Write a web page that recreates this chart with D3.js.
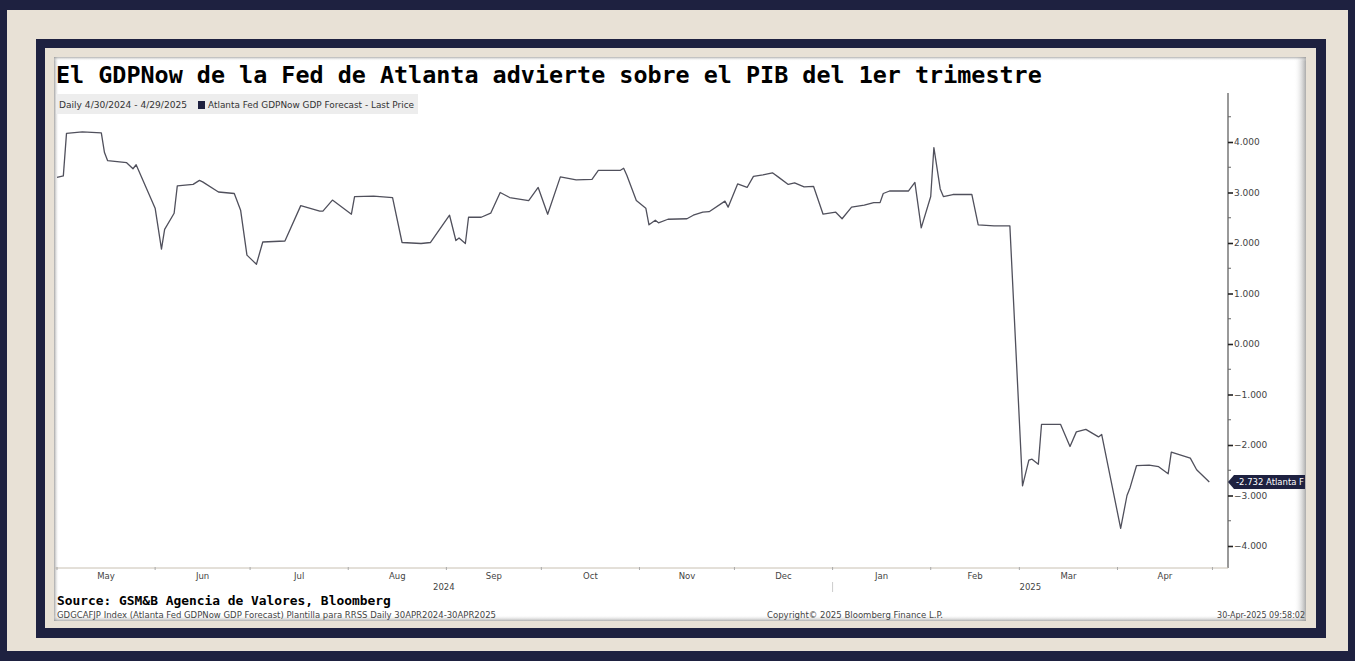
<!DOCTYPE html>
<html><head><meta charset="utf-8">
<script src="https://cdn.jsdelivr.net/npm/d3@7"></script>
<style>html,body{margin:0;padding:0;background:#1e2140;}svg{display:block;}</style>
</head><body>
<svg id="c" width="1355" height="661"></svg>
<script>
// ---- data ----
const dates = ["2024-04-30","2024-05-02","2024-05-03","2024-05-08","2024-05-14","2024-05-15","2024-05-16","2024-05-22","2024-05-24","2024-05-25","2024-05-31",
"2024-06-02","2024-06-03","2024-06-06","2024-06-07","2024-06-12","2024-06-14","2024-06-15","2024-06-20","2024-06-25","2024-06-27","2024-06-29",
"2024-07-02","2024-07-04","2024-07-11","2024-07-16","2024-07-22","2024-07-23","2024-07-26",
"2024-08-01","2024-08-02","2024-08-08","2024-08-14","2024-08-17","2024-08-23","2024-08-26",
"2024-09-01","2024-09-03","2024-09-04","2024-09-06","2024-09-07","2024-09-11","2024-09-14","2024-09-17","2024-09-20","2024-09-26","2024-09-29",
"2024-10-02","2024-10-06","2024-10-11","2024-10-16","2024-10-18","2024-10-25","2024-10-26","2024-10-27","2024-10-30",
"2024-11-02","2024-11-03","2024-11-05","2024-11-06","2024-11-09","2024-11-15","2024-11-17","2024-11-20","2024-11-22","2024-11-27","2024-11-28",
"2024-12-01","2024-12-04","2024-12-06","2024-12-09","2024-12-12","2024-12-14","2024-12-17","2024-12-19","2024-12-22","2024-12-25","2024-12-28",
"2025-01-01","2025-01-03","2025-01-06","2025-01-10","2025-01-13","2025-01-15","2025-01-16","2025-01-18","2025-01-24","2025-01-26","2025-01-28","2025-01-31",
"2025-02-01","2025-02-03","2025-02-04","2025-02-07","2025-02-13","2025-02-15","2025-02-20","2025-02-25",
"2025-03-01","2025-03-03","2025-03-04","2025-03-06","2025-03-07","2025-03-13","2025-03-16","2025-03-18","2025-03-21","2025-03-25","2025-03-26",
"2025-04-01","2025-04-03","2025-04-04","2025-04-06","2025-04-10","2025-04-13","2025-04-16","2025-04-17","2025-04-23","2025-04-25","2025-04-29"];
const gdpNow = [3.30,3.33,4.17,4.20,4.18,3.79,3.63,3.59,3.47,3.55,2.69,
1.88,2.27,2.59,3.13,3.16,3.24,3.21,3.01,2.98,2.65,1.76,
1.58,2.02,2.04,2.74,2.63,2.63,2.85,
2.57,2.92,2.93,2.90,2.01,1.99,2.01,
2.55,2.05,2.10,1.99,2.51,2.51,2.59,3.00,2.90,2.84,3.10,
2.57,3.31,3.25,3.26,3.44,3.44,3.48,3.34,2.84,
2.69,2.36,2.45,2.40,2.47,2.48,2.55,2.61,2.62,2.83,2.71,
3.17,3.10,3.32,3.35,3.39,3.30,3.16,3.19,3.11,3.12,2.57,
2.61,2.48,2.71,2.75,2.80,2.80,2.98,3.03,3.03,3.20,2.30,2.92,
3.89,3.07,2.92,2.96,2.96,2.36,2.34,2.34,
-2.81,-2.30,-2.28,-2.38,-1.59,-1.59,-2.03,-1.74,-1.69,-1.84,-1.79,
-3.65,-3.00,-2.84,-2.41,-2.40,-2.43,-2.57,-2.14,-2.26,-2.49,-2.732];
const yTicks = [-4,-3,-2,-1,0,1,2,3,4];
const monthLabels = ["May","Jun","Jul","Aug","Sep","Oct","Nov","Dec","Jan","Feb","Mar","Apr"];
const yearLabels = ["2024","2025"];
const titleText = "El GDPNow de la Fed de Atlanta advierte sobre el PIB del 1er trimestre";
const legendRange = "Daily 4/30/2024 - 4/29/2025";
const legendSeries = "Atlanta Fed GDPNow GDP Forecast - Last Price";
const sourceText = "Source: GSM&B Agencia de Valores, Bloomberg";
const footLeft = "GDGCAFJP Index (Atlanta Fed GDPNow GDP Forecast) Plantilla para RRSS  Daily 30APR2024-30APR2025";
const footMid = "Copyright\u00A9 2025 Bloomberg Finance L.P.";
const footRight = "30-Apr-2025 09:58:02";
const lastLabel = "-2.732 Atlanta F";

// ---- drawing ----
const NAVY = "#1e2140", CREAM = "#e8e1d6";
const svg = d3.select("#c");
const parse = d3.utcParse("%Y-%m-%d");
const data = dates.map((d,i)=>({date:parse(d), v:gdpNow[i]}));

svg.append("rect").attr("width",1355).attr("height",661).attr("fill",NAVY);
svg.append("rect").attr("x",7).attr("y",10).attr("width",1341).attr("height",641).attr("fill",CREAM);
svg.append("rect").attr("x",36).attr("y",39).attr("width",1290).attr("height",599).attr("fill",NAVY);
svg.append("rect").attr("x",45).attr("y",48).attr("width",1271).attr("height",580).attr("fill",CREAM);

// white panel with soft inner edge
const defs = svg.append("defs");
function grad(id,x1,y1,x2,y2,op){
  const g = defs.append("linearGradient").attr("id",id).attr("x1",x1).attr("y1",y1).attr("x2",x2).attr("y2",y2);
  g.append("stop").attr("offset","0").attr("stop-color","#8f8f8f").attr("stop-opacity",op);
  g.append("stop").attr("offset","1").attr("stop-color","#ffffff").attr("stop-opacity",0);
}
grad("gl",0,0,1,0,0.8); grad("gr",1,0,0,0,0.75); grad("gt",0,0,0,1,0.7); grad("gb",0,1,0,0,0.7);
const P = {x0:54, y0:57, x1:1306, y1:621};
svg.append("rect").attr("x",P.x0).attr("y",P.y0).attr("width",P.x1-P.x0).attr("height",P.y1-P.y0).attr("fill","#ffffff");
svg.append("rect").attr("x",P.x0).attr("y",P.y0).attr("width",5).attr("height",P.y1-P.y0).attr("fill","url(#gl)");
svg.append("rect").attr("x",P.x1-12).attr("y",P.y0).attr("width",12).attr("height",P.y1-P.y0).attr("fill","url(#gr)");
svg.append("rect").attr("x",P.x0).attr("y",P.y0).attr("width",P.x1-P.x0).attr("height",4).attr("fill","url(#gt)");
svg.append("rect").attr("x",P.x0).attr("y",P.y1-6).attr("width",P.x1-P.x0).attr("height",6).attr("fill","url(#gb)");

// title
svg.append("text").attr("x",56).attr("y",83).text(titleText)
  .attr("font-family","DejaVu Sans Mono").attr("font-weight","bold").attr("font-size",23.4).attr("fill","#000");

// legend
const lg = svg.append("g");
lg.append("rect").attr("x",56).attr("y",94).attr("width",362).attr("height",20).attr("fill","#ededed");
lg.append("text").attr("x",59).attr("y",108).text(legendRange)
  .attr("font-family","DejaVu Sans").attr("font-size",9).attr("fill","#333")
  .attr("textLength",128).attr("lengthAdjust","spacingAndGlyphs");
lg.append("rect").attr("x",198).attr("y",101).attr("width",7).attr("height",8).attr("fill",NAVY);
lg.append("text").attr("x",208).attr("y",108).text(legendSeries)
  .attr("font-family","DejaVu Sans").attr("font-size",9).attr("fill","#333")
  .attr("textLength",206).attr("lengthAdjust","spacingAndGlyphs");

// scales
const plotTop = 93, plotBottom = 568, axisX = 1228, plotLeft = 55;
const x = d3.scaleUtc().domain([parse("2024-04-30"), parse("2025-04-29")]).range([57, 1209.3]);
const y = d3.scaleLinear().domain([0, 4]).range([344, 142]);

// y axis (right)
svg.append("line").attr("x1",axisX).attr("x2",axisX).attr("y1",plotTop).attr("y2",plotBottom)
  .attr("stroke","#555").attr("stroke-width",1.2);
const yAxis = d3.axisRight(y).tickValues(yTicks).tickSize(5).tickPadding(1).tickFormat(d3.format(".3f"));
const ya = svg.append("g").attr("transform",`translate(${axisX},0)`).call(yAxis);
ya.select(".domain").remove();
ya.selectAll(".tick line").attr("stroke","#222").attr("stroke-width",1.6);
ya.selectAll(".tick text").attr("font-family","DejaVu Sans").attr("font-size",9).attr("fill","#444");
const minor = d3.range(-4.5, 5, 1).filter(v => y(v) > plotTop && y(v) < plotBottom);
svg.append("g").selectAll("line").data(minor).join("line")
  .attr("x1",axisX).attr("x2",axisX+3).attr("y1",d=>y(d)).attr("y2",d=>y(d))
  .attr("stroke","#666").attr("stroke-width",1);

// x axis
svg.append("line").attr("x1",plotLeft).attr("x2",axisX).attr("y1",plotBottom).attr("y2",plotBottom)
  .attr("stroke","#c8c0b2").attr("stroke-width",1);
// month boundary ticks sit at the last day of each month
const monthEnds = d3.utcMonth.range(parse("2024-05-01"), parse("2025-05-02")).map(d => d3.utcDay.offset(d, -1));
svg.append("g").selectAll("line").data(monthEnds).join("line")
  .attr("x1",d=>x(d)).attr("x2",d=>x(d)).attr("y1",plotBottom-1).attr("y2",plotBottom+2)
  .attr("stroke","#aaa").attr("stroke-width",1);
const monthCenters = monthLabels.map((m,i)=> (x(monthEnds[i]) + x(monthEnds[i+1]))/2);
svg.append("g").selectAll("text").data(monthLabels).join("text")
  .attr("x",(d,i)=>monthCenters[i]).attr("y",579).attr("text-anchor","middle").text(d=>d)
  .attr("font-family","DejaVu Sans").attr("font-size",8.5).attr("fill","#444");
const yearX = x(monthEnds[8]);
svg.append("line").attr("x1",yearX).attr("x2",yearX).attr("y1",582).attr("y2",592)
  .attr("stroke","#ccc").attr("stroke-width",1);
const yearCenters = [(plotLeft + yearX)/2, (yearX + axisX)/2];
svg.append("g").selectAll("text").data(yearLabels).join("text")
  .attr("x",(d,i)=>yearCenters[i]).attr("y",590).attr("text-anchor","middle").text(d=>d)
  .attr("font-family","DejaVu Sans").attr("font-size",8.5).attr("fill","#444");

// line
const line = d3.line().x(d=>x(d.date)).y(d=>y(d.v));
svg.append("path").datum(data).attr("d",line).attr("fill","none")
  .attr("stroke","#50505c").attr("stroke-width",1.3).attr("stroke-linejoin","round");

// last value tag
const last = data[data.length-1];
const ty = y(last.v);
svg.append("path").attr("d",`M${axisX},${ty} L${axisX+6},${ty-7} L1305,${ty-7} L1305,${ty+7} L${axisX+6},${ty+7} Z`)
  .attr("fill",NAVY);
svg.append("text").attr("x",axisX+8).attr("y",ty+3.5).text(lastLabel)
  .attr("font-family","DejaVu Sans").attr("font-size",9.5).attr("fill","#fff")
  .attr("textLength",68).attr("lengthAdjust","spacingAndGlyphs");

// source & footer
svg.append("text").attr("x",57).attr("y",605).text(sourceText)
  .attr("font-family","DejaVu Sans Mono").attr("font-weight","bold").attr("font-size",12.9).attr("fill","#000");
svg.append("text").attr("x",57).attr("y",618).text(footLeft)
  .attr("font-family","DejaVu Sans").attr("font-size",8).attr("fill","#444")
  .attr("textLength",439).attr("lengthAdjust","spacingAndGlyphs");
svg.append("text").attr("x",767).attr("y",618).text(footMid)
  .attr("font-family","DejaVu Sans").attr("font-size",8).attr("fill","#444")
  .attr("textLength",176).attr("lengthAdjust","spacingAndGlyphs");
svg.append("text").attr("x",1305).attr("y",618).attr("text-anchor","end").text(footRight)
  .attr("font-family","DejaVu Sans").attr("font-size",8).attr("fill","#444");
</script>
</body></html>
